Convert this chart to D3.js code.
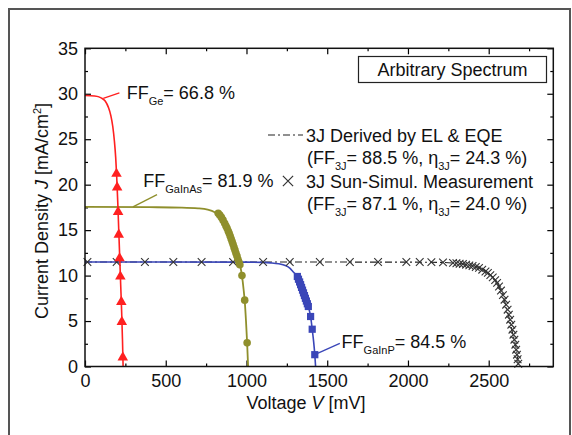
<!DOCTYPE html>
<html>
<head>
<meta charset="utf-8">
<script src="https://d3js.org/d3.v7.min.js"></script>
<style>
  body { margin: 0; background: #fff; }
  svg { display: block; font-family: "Liberation Sans", Arial, sans-serif; }
</style>
</head>
<body>
<script>
// ---- data (V in mV, J in mA/cm2) ----
const geCurve = [[0, 29.8], [60, 29.75], [100, 29.55], [125, 29.2], [145, 28.5], [160, 27.6],
    [172, 26.4], [182, 24.8], [190, 23.0], [196, 21.0], [203, 18.0], [209, 15.0], [215, 12.0],
    [221, 9.0], [227, 6.0], [232, 3.0], [236, 0]];
const geMarkers = [[195, 21.2], [199, 19.7], [205, 17.0], [209, 14.5], [214, 11.9], [219, 9.9],
    [225, 7.1], [228, 4.9], [234, 1.0]];

const gainasCurve = [[0, 17.55], [400, 17.52], [600, 17.48], [700, 17.4], [760, 17.25], [800, 17.0],
    [830, 16.6], [860, 15.9], [890, 15.0], [915, 14.0], [935, 13.0], [950, 12.0], [962, 11.0],
    [972, 10.0], [982, 8.5], [990, 7.0], [997, 5.0], [1004, 2.6], [1010, 0]];
const gainasMarkers = [[825, 16.85], [835, 16.65], [845, 16.4], [855, 16.1], [865, 15.75], [873, 15.45],
    [880, 15.2], [887, 14.9], [893, 14.65], [899, 14.35], [905, 14.05], [911, 13.75], [917, 13.45],
    [923, 13.1], [929, 12.8], [935, 12.45], [941, 12.15], [947, 11.8], [953, 11.5], [959, 11.2],
    [972, 10.0], [989, 7.3], [1004, 2.6]];

const gainpCurve = [[0, 11.5], [1000, 11.48], [1100, 11.45], [1150, 11.4], [1200, 11.3], [1240, 11.12],
    [1270, 10.8], [1290, 10.4], [1315, 9.9], [1350, 8.25], [1383, 6.6], [1397, 5.5], [1407, 4.1],
    [1416, 2.7], [1423, 1.3], [1428, 0]];
const gainpMarkers = [[1315, 9.9], [1322, 9.6], [1329, 9.3], [1335, 9.0], [1341, 8.7], [1347, 8.4],
    [1353, 8.1], [1359, 7.8], [1365, 7.5], [1371, 7.2], [1377, 6.9], [1383, 6.6], [1397, 5.5],
    [1407, 4.1], [1423, 1.3]];

const derivedCurve = [[0, 11.5], [2000, 11.48], [2200, 11.45], [2300, 11.35], [2350, 11.25], [2400, 11.1],
    [2450, 10.8], [2500, 10.25], [2530, 9.7], [2560, 8.9], [2590, 7.7], [2612, 6.3], [2630, 5.1],
    [2645, 3.9], [2660, 2.8], [2673, 1.7], [2683, 0.3], [2686, 0]];
const measured = [[15, 11.5], [196, 11.5], [371, 11.5], [547, 11.5], [722, 11.5], [917, 11.5],
    [1103, 11.5], [1268, 11.5], [1454, 11.5], [1640, 11.5], [1815, 11.5], [1990, 11.5], [2073, 11.5],
    [2145, 11.48], [2217, 11.45], [2279, 11.4], [2300, 11.35], [2320, 11.3], [2340, 11.27], [2360, 11.2],
    [2380, 11.12], [2400, 11.05], [2420, 10.95], [2440, 10.85], [2460, 10.65], [2480, 10.45],
    [2495, 10.3], [2510, 10.05], [2525, 9.8], [2540, 9.5], [2552, 9.2], [2564, 8.8], [2576, 8.35],
    [2588, 7.85], [2598, 7.35], [2608, 6.8], [2617, 6.25], [2625, 5.7], [2633, 5.15], [2640, 4.6],
    [2647, 4.05], [2653, 3.5], [2659, 2.95], [2665, 2.4], [2670, 1.85], [2675, 1.3], [2679, 0.8],
    [2683, 0.3]];

const xTicks = [0, 500, 1000, 1500, 2000, 2500];
const yTicks = [0, 5, 10, 15, 20, 25, 30, 35];
const ffCells = ['Ge', 'GaInAs', 'GaInP'];
const ffValues = ['66.8', '81.9', '84.5'];
const legendNames = ['3J Derived by EL & EQE', '3J Sun-Simul. Measurement'];
const legendFF = ['88.5', '87.1'];
const legendEta = ['24.3', '24.0'];

// ---- layout ----
const width = 572;
const height = 435;
const plot = { left: 85, top: 48.3, right: 553.3, bottom: 366.5 };
const colors = { ge: '#ff2020', gainas: '#8f8f2c', gainp: '#3a46b8', tj: '#222' };
const fontSize = 18;

let svg = d3.select('body')
    .append('svg')
    .attr('width', width)
    .attr('height', height);

// outer figure frame
svg.append('rect')
    .attr('x', 9).attr('y', 9)
    .attr('width', 561).attr('height', 440)
    .attr('fill', 'none')
    .attr('stroke', '#555')
    .attr('stroke-width', 2);

let xScale = d3.scaleLinear().domain([0, 2900]).range([plot.left, plot.right]);
let yScale = d3.scaleLinear().domain([0, 35]).range([plot.bottom, plot.top]);

let xMinor = d3.range(250, 2900, 500);
let yMinor = d3.range(2.5, 35, 5);
let plain = d3.format('d');

function styleAxis(g) {
    g.select('.domain').remove();
    g.selectAll('.tick line').attr('stroke', '#000').attr('stroke-width', 1.2);
    g.selectAll('.tick text')
        .attr('fill', '#111')
        .style('font-size', fontSize + 'px');
}

// bottom axis
svg.append('g')
    .attr('transform', `translate(0,${plot.bottom})`)
    .call(d3.axisBottom(xScale).tickValues(xTicks).tickFormat(plain)
        .tickSizeInner(-6).tickSizeOuter(0).tickPadding(8))
    .call(styleAxis);
svg.append('g')
    .attr('transform', `translate(0,${plot.bottom})`)
    .call(d3.axisBottom(xScale).tickValues(xMinor).tickSize(-3).tickFormat(''))
    .call(styleAxis);
// top axis (mirror)
svg.append('g')
    .attr('transform', `translate(0,${plot.top})`)
    .call(d3.axisTop(xScale).tickValues(xTicks).tickSize(-6).tickFormat(''))
    .call(styleAxis);
svg.append('g')
    .attr('transform', `translate(0,${plot.top})`)
    .call(d3.axisTop(xScale).tickValues(xMinor).tickSize(-3).tickFormat(''))
    .call(styleAxis);
// left axis
svg.append('g')
    .attr('transform', `translate(${plot.left},0)`)
    .call(d3.axisLeft(yScale).tickValues(yTicks).tickFormat(plain)
        .tickSizeInner(-6).tickSizeOuter(0).tickPadding(7))
    .call(styleAxis);
svg.append('g')
    .attr('transform', `translate(${plot.left},0)`)
    .call(d3.axisLeft(yScale).tickValues(yMinor).tickSize(-3).tickFormat(''))
    .call(styleAxis);
// right axis (mirror)
svg.append('g')
    .attr('transform', `translate(${plot.right},0)`)
    .call(d3.axisRight(yScale).tickValues(yTicks).tickSize(-6).tickFormat(''))
    .call(styleAxis);
svg.append('g')
    .attr('transform', `translate(${plot.right},0)`)
    .call(d3.axisRight(yScale).tickValues(yMinor).tickSize(-3).tickFormat(''))
    .call(styleAxis);

// axis titles
let xTitle = svg.append('text')
    .attr('x', 306).attr('y', 409)
    .attr('text-anchor', 'middle')
    .style('font-size', fontSize + 'px')
    .attr('fill', '#111');
xTitle.append('tspan').text('Voltage ');
xTitle.append('tspan').style('font-style', 'italic').text('V');
xTitle.append('tspan').text(' [mV]');

let yTitle = svg.append('text')
    .attr('transform', 'translate(48,211) rotate(-90)')
    .attr('text-anchor', 'middle')
    .style('font-size', fontSize + 'px')
    .attr('fill', '#111');
yTitle.append('tspan').text('Current Density ');
yTitle.append('tspan').style('font-style', 'italic').text('J');
yTitle.append('tspan').text(' [mA/cm');
yTitle.append('tspan').attr('dy', -7).style('font-size', '11px').text('2');
yTitle.append('tspan').attr('dy', 7).text(']');

// ---- curves ----
let line = d3.line()
    .x(d => xScale(d[0]))
    .y(d => yScale(d[1]))
    .curve(d3.curveMonotoneX);

let curves = svg.append('g').classed('curves', true);

curves.append('path')
    .datum(derivedCurve)
    .attr('d', line)
    .attr('fill', 'none')
    .attr('stroke', colors.tj)
    .attr('stroke-width', 1.1)
    .attr('stroke-dasharray', '7,3,2,3');

curves.append('path')
    .datum(gainpCurve)
    .attr('d', line)
    .attr('fill', 'none')
    .attr('stroke', colors.gainp)
    .attr('stroke-width', 1.6);

// measured 3J points (x marks)
curves.selectAll('.meas')
    .data(measured)
    .enter()
    .append('path')
    .classed('meas', true)
    .attr('transform', d => `translate(${xScale(d[0])},${yScale(d[1])})`)
    .attr('d', d3.symbol(d3.symbolTimes).size(40))
    .attr('fill', 'none')
    .attr('stroke', '#333')
    .attr('stroke-width', 1.1);

curves.selectAll('.gainp')
    .data(gainpMarkers)
    .enter()
    .append('path')
    .classed('gainp', true)
    .attr('transform', d => `translate(${xScale(d[0])},${yScale(d[1])})`)
    .attr('d', d3.symbol(d3.symbolSquare).size(52))
    .attr('fill', colors.gainp);

curves.append('path')
    .datum(gainasCurve)
    .attr('d', line)
    .attr('fill', 'none')
    .attr('stroke', colors.gainas)
    .attr('stroke-width', 1.8);

curves.selectAll('.gainas')
    .data(gainasMarkers)
    .enter()
    .append('circle')
    .classed('gainas', true)
    .attr('cx', d => xScale(d[0]))
    .attr('cy', d => yScale(d[1]))
    .attr('r', 3.8)
    .attr('fill', colors.gainas);

curves.append('path')
    .datum(geCurve)
    .attr('d', line)
    .attr('fill', 'none')
    .attr('stroke', colors.ge)
    .attr('stroke-width', 1.6);

curves.selectAll('.ge')
    .data(geMarkers)
    .enter()
    .append('path')
    .classed('ge', true)
    .attr('transform', d => `translate(${xScale(d[0])},${yScale(d[1])})`)
    .attr('d', d3.symbol(d3.symbolTriangle).size(48))
    .attr('fill', colors.ge);

// ---- fill-factor annotations (anchors in data units) ----
let ffAnchors = [
    { from: [113, 29.5], to: [213, 30.1], text: [258, 29.45], color: colors.ge },
    { from: [297, 17.55], to: [446, 18.9], text: [361, 19.7], color: colors.gainas },
    { from: [1419, 1.27], to: [1578, 2.55], text: [1589, 2.0], color: colors.gainp }
];

ffCells.forEach((cell, i) => {
    let a = ffAnchors[i];
    svg.append('line')
        .attr('x1', xScale(a.from[0])).attr('y1', yScale(a.from[1]))
        .attr('x2', xScale(a.to[0])).attr('y2', yScale(a.to[1]))
        .attr('stroke', a.color)
        .attr('stroke-width', 1.3);
    let t = svg.append('text')
        .attr('x', xScale(a.text[0]))
        .attr('y', yScale(a.text[1]))
        .style('font-size', fontSize + 'px')
        .attr('fill', '#111');
    t.append('tspan').text('FF');
    t.append('tspan').attr('dy', 6).style('font-size', '11px').text(cell);
    t.append('tspan').attr('dy', -6).text(`= ${ffValues[i]} %`);
});

// ---- legend ----
let box = svg.append('g').classed('spectrum', true);
box.append('rect')
    .attr('x', 358.5).attr('y', 56.5)
    .attr('width', 188).attr('height', 26)
    .attr('fill', '#fff')
    .attr('stroke', '#222')
    .attr('stroke-width', 1.2);
box.append('text')
    .attr('x', 452.5).attr('y', 76)
    .attr('text-anchor', 'middle')
    .style('font-size', fontSize + 'px')
    .attr('fill', '#111')
    .text('Arbitrary Spectrum');

let legend = svg.append('g').classed('legend', true);
legend.append('line')
    .attr('x1', 268).attr('x2', 303)
    .attr('y1', 135).attr('y2', 135)
    .attr('stroke', colors.tj)
    .attr('stroke-width', 1.1)
    .attr('stroke-dasharray', '7,3,2,3');
legend.append('path')
    .attr('transform', 'translate(288,181)')
    .attr('d', d3.symbol(d3.symbolTimes).size(70))
    .attr('fill', 'none')
    .attr('stroke', '#333')
    .attr('stroke-width', 1.2);

legendNames.forEach((name, i) => {
    let y0 = 141.5 + i * 46;
    legend.append('text')
        .attr('x', 306).attr('y', y0)
        .style('font-size', fontSize + 'px')
        .attr('fill', '#111')
        .text(name);
    let t = legend.append('text')
        .attr('x', 307).attr('y', y0 + 22.5)
        .style('font-size', fontSize + 'px')
        .attr('fill', '#111');
    t.append('tspan').text('(FF');
    t.append('tspan').attr('dy', 6).style('font-size', '11px').text('3J');
    t.append('tspan').attr('dy', -6).text(`= ${legendFF[i]} %, η`);
    t.append('tspan').attr('dy', 6).style('font-size', '11px').text('3J');
    t.append('tspan').attr('dy', -6).text(`= ${legendEta[i]} %)`);
});

// plot frame on top
svg.append('rect')
    .attr('x', plot.left).attr('y', plot.top)
    .attr('width', plot.right - plot.left)
    .attr('height', plot.bottom - plot.top)
    .attr('fill', 'none')
    .attr('stroke', '#111')
    .attr('stroke-width', 1.5);
</script>
</body>
</html>
